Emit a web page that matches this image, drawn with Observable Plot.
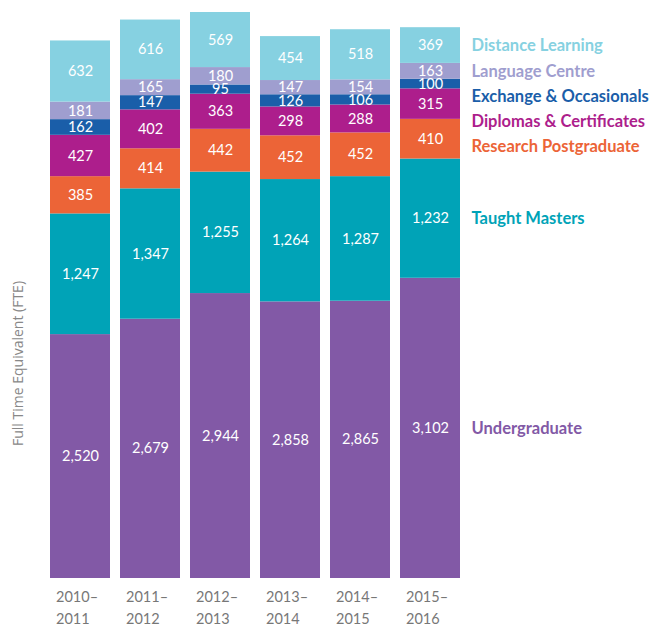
<!DOCTYPE html>
<html><head><meta charset="utf-8">
<script src="https://cdn.jsdelivr.net/npm/d3@7"></script>
<script src="https://cdn.jsdelivr.net/npm/@observablehq/plot@0.6"></script>
<style>body{margin:0;background:#fff;}</style>
</head><body><div id="chart"></div>
<script>
const years = ["2010–2011","2011–2012","2012–2013","2013–2014","2014–2015","2015–2016"];
const categories = ["Undergraduate","Taught Masters","Research Postgraduate","Diplomas & Certificates","Exchange & Occasionals","Language Centre","Distance Learning"];
const colors = ["#8259a6","#00a3b7","#ec6437","#ad1e8c","#1a5ea9","#9f9ecf","#86d1e1"];
const undergraduate = [2520,2679,2944,2858,2865,3102];
const taughtMasters = [1247,1347,1255,1264,1287,1232];
const researchPostgraduate = [385,414,442,452,452,410];
const diplomasCertificates = [427,402,363,298,288,315];
const exchangeOccasionals = [162,147,95,126,106,100];
const languageCentre = [181,165,180,147,154,163];
const distanceLearning = [632,616,569,454,518,369];
const yLabel = "Full Time Equivalent (FTE)";

const series = [undergraduate,taughtMasters,researchPostgraduate,diplomasCertificates,exchangeOccasionals,languageCentre,distanceLearning];
const data = [];
categories.forEach((c,i)=>years.forEach((y,j)=>data.push({year:y,cat:c,value:series[i][j]})));

const H = 627, mTop = 12, mBottom = 49;
const yMax = d3.max(years.map((y,j)=>d3.sum(series,s=>s[j])));
const pxPerUnit = (H - mTop - mBottom) / yMax;

// right-hand labels next to the last bar, spread so they don't overlap
const last = years.length - 1;
let cum = 0;
const mids = series.map(s => { const m = cum + s[last]/2; cum += s[last]; return m; });
const gap = 25 / pxPerUnit;
const labelY = new Array(categories.length);
let prev = Infinity;
for (let i = categories.length - 1; i >= 0; i--) {
  labelY[i] = Math.min(mids[i], prev - gap);
  prev = labelY[i];
}
const legend = categories.map((c,i)=>({cat:c, y:labelY[i], year:years[last]}));

const plot = Plot.plot({
  width: 655, height: H,
  marginTop: mTop, marginBottom: mBottom, marginLeft: 47, marginRight: 192,
  style: {fontFamily: "Lato, 'Open Sans', sans-serif", background: "#fff"},
  x: {domain: years, paddingInner: 0.14, paddingOuter: 0, axis: null},
  y: {domain: [0, yMax], axis: null},
  color: {domain: categories, range: colors},
  marks: [
    Plot.barY(data, {x:"year", y:"value", fill:"cat", order: categories}),
    Plot.text(data, Plot.stackY({x:"year", y:"value", z:"cat", order: categories,
      text: d => d3.format(",")(d.value), fill:"white", fontSize: 14.5})),
    Plot.text(legend, {x:"year", y:"y", text:"cat", fill: d => colors[categories.indexOf(d.cat)],
      textAnchor:"start", dx: 41, fontSize: 16.5, fontWeight: "bold"}),
    Plot.axisX({domain: years, tickSize: 0, tickPadding: 8, label: null,
      tickFormat: d => d.replace("–", "–\n"), textAnchor: "start", dx: -24.5,
      fontSize: 14.5, fill: "#777", lineHeight: 1.5}),
    Plot.text([yLabel], {frameAnchor: "left", rotate: -90, dx: -29, dy: 68, textAnchor: "middle",
      fill: "#888", fontSize: 14, fontFamily: "'Open Sans', sans-serif"})
  ]
});
document.getElementById("chart").appendChild(plot);
</script>
</body></html>
